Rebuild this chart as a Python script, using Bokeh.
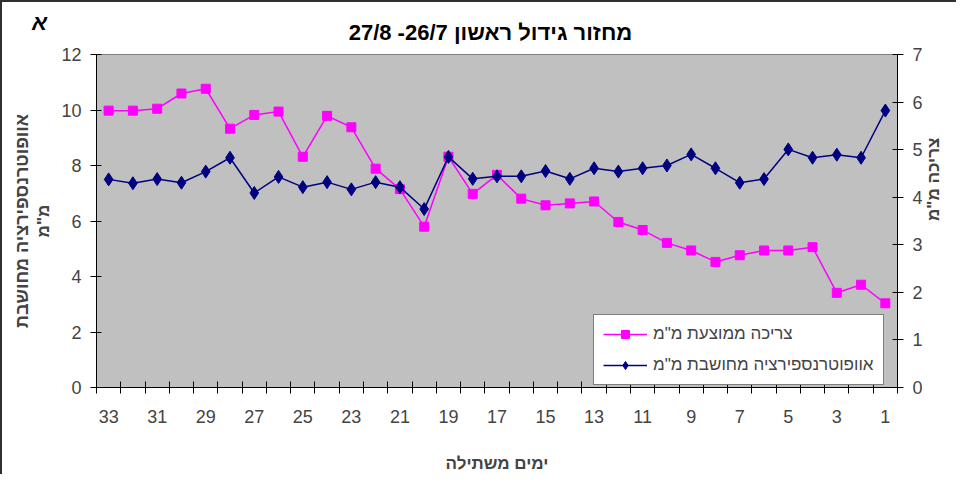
import math
from bokeh.plotting import figure
from bokeh.models import Range1d, LinearAxis, FixedTicker, Legend, LegendItem, Label
from bokeh.embed import file_html
from bokeh.resources import INLINE

# ---- data ----
days = list(range(33, 0, -1))
day_ticks = list(range(33, 0, -2))
consumption = [5.82, 5.82, 5.86, 6.18, 6.28, 5.44, 5.73, 5.80, 4.85, 5.71, 5.47,
               4.60, 4.17, 3.38, 4.85, 4.07, 4.47, 3.97, 3.83, 3.87, 3.91, 3.48,
               3.31, 3.04, 2.88, 2.64, 2.78, 2.88, 2.88, 2.95, 1.99, 2.16, 1.77]
et = [7.50, 7.36, 7.51, 7.38, 7.78, 8.28, 7.01, 7.59, 7.22, 7.40, 7.14,
      7.40, 7.22, 6.43, 8.31, 7.52, 7.61, 7.61, 7.80, 7.52, 7.90, 7.78,
      7.90, 8.00, 8.40, 7.90, 7.38, 7.51, 8.58, 8.28, 8.39, 8.28, 9.98]
left_ticks = [0, 2, 4, 6, 8, 10, 12]
right_ticks = [0, 1, 2, 3, 4, 5, 6, 7]

title_text = "מחזור גידול ראשון 26/7- 27/8"
label_cons = 'צריכה ממוצעת מ"מ'
label_et = 'אוופוטרנספירציה מחושבת מ"מ'
xlabel = "ימים משתילה"
ylabel_outer = "אוופוטרנספירציה מחושבת"
ylabel_inner = 'מ"מ'
ylabel_right = 'צריכה מ"מ'
panel_letter = "א"

FONT = "Liberation Sans"
MAGENTA = "#FF00FF"
NAVY = "#000080"

p = figure(width=956, height=474, output_backend="svg", toolbar_location=None,
           title=None,
           x_range=Range1d(33.5, 0.5), y_range=Range1d(0, 12),
           min_border_left=94, min_border_right=61, min_border_top=52, min_border_bottom=89,
           background_fill_color="#C0C0C0", border_fill_color="white")
p.styles = {"border-left": "2px solid #303030", "border-top": "2px solid #303030",
            "box-sizing": "border-box"}
p.outline_line_color = "#808080"
p.xgrid.visible = False
p.ygrid.visible = False

p.extra_y_ranges = {"right": Range1d(0, 7)}

# x axis
xa = p.xaxis[0]
xa.ticker = FixedTicker(ticks=day_ticks, minor_ticks=[d + 0.5 for d in range(0, 34)])
xa.major_tick_line_color = None
xa.major_tick_out = 6
xa.major_tick_in = 0
xa.minor_tick_line_color = "black"
xa.minor_tick_in = 6
xa.minor_tick_out = 6
xa.major_label_standoff = 16
xa.major_label_text_font = FONT
xa.major_label_text_font_size = "18px"
xa.axis_label = xlabel
xa.axis_label_text_font = FONT
xa.axis_label_text_font_size = "17px"
xa.axis_label_text_font_style = "bold"
xa.axis_label_standoff = 28
xa.axis_line_color = "black"

# left axis
ya = p.yaxis[0]
ya.ticker = FixedTicker(ticks=left_ticks)
ya.minor_tick_line_color = None
ya.major_tick_in = 5
ya.major_tick_out = 6
ya.major_label_standoff = 9
ya.major_label_text_font = FONT
ya.major_label_text_font_size = "18px"
ya.axis_label = ylabel_inner
ya.axis_label_text_font = FONT
ya.axis_label_text_font_size = "17px"
ya.axis_label_text_font_style = "bold"
ya.axis_label_standoff = 5
ya.axis_line_color = "black"

ya2 = LinearAxis(ticker=FixedTicker(ticks=[]), axis_line_color=None,
                 major_tick_line_color=None, minor_tick_line_color=None,
                 major_tick_out=0, major_tick_in=0, major_label_standoff=0,
                 major_label_text_font_size="0px",
                 axis_label=ylabel_outer, axis_label_text_font=FONT,
                 axis_label_text_font_size="18px", axis_label_text_font_style="bold",
                 axis_label_standoff=0)
p.add_layout(ya2, "left")

# right axis (ticks and numbers)
ra = LinearAxis(y_range_name="right", ticker=FixedTicker(ticks=right_ticks),
                minor_tick_line_color=None, major_tick_in=5, major_tick_out=6,
                major_label_standoff=9, major_label_text_font=FONT,
                major_label_text_font_size="18px",
                axis_line_color="black")
p.add_layout(ra, "right")

# right axis title, carried by a bare axis whose bounds place the title
ra2 = LinearAxis(y_range_name="right", bounds=(0, 4.98), ticker=FixedTicker(ticks=[]),
                 axis_line_color=None, major_tick_line_color=None,
                 minor_tick_line_color=None, major_tick_out=0, major_tick_in=0,
                 major_label_standoff=0, major_label_text_font_size="0px",
                 axis_label=ylabel_right, axis_label_text_font=FONT,
                 axis_label_text_font_size="17px", axis_label_text_font_style="bold",
                 axis_label_standoff=8)
try:
    ra2.axis_label_orientation = math.pi / 2
except Exception:
    pass
p.add_layout(ra2, "right")

# series
l1 = p.line(days, consumption, y_range_name="right", line_color=MAGENTA, line_width=1.5)
m1 = p.scatter(days, consumption, y_range_name="right", marker="square", size=9,
               fill_color=MAGENTA, line_color=MAGENTA)
l2 = p.line(days, et, line_color=NAVY, line_width=1.5)
m2 = p.scatter(days, et, marker="diamond", size=13, fill_color=NAVY, line_color=NAVY)

legend = Legend(items=[LegendItem(label=label_cons, renderers=[l1, m1]),
                       LegendItem(label=label_et, renderers=[l2, m2])],
                location=(497, 2), orientation="vertical",
                label_text_font=FONT, label_text_font_size="17px",
                glyph_width=44, glyph_height=20, label_height=20, label_standoff=6,
                padding=9, spacing=11, margin=0,
                border_line_color="black", border_line_width=1,
                background_fill_color="white", background_fill_alpha=1)
p.add_layout(legend, "center")

# chart title and panel letter, placed in the top border area
title_lbl = Label(x=17.27, y=12.81, text=title_text,
                  text_font=FONT, text_font_size="22px", text_font_style="bold",
                  text_color="black", text_align="center", text_baseline="middle")
p.add_layout(title_lbl, "above")

letter = Label(x=35.85, y=13.15, text=panel_letter,
               text_font=FONT, text_font_size="22px", text_font_style="bold italic",
               text_color="black", text_align="center", text_baseline="middle")
p.add_layout(letter, "above")

open("out.html", "w").write(file_html(p, INLINE))
